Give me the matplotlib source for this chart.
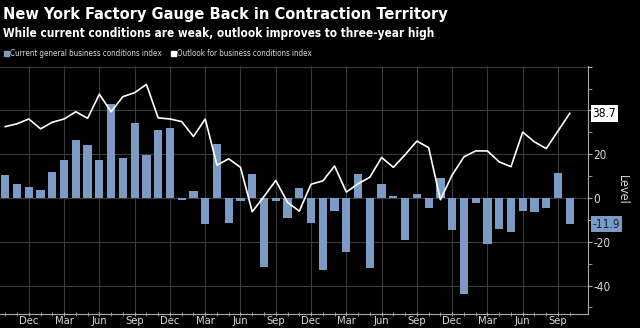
import matplotlib
matplotlib.use("Agg")
import matplotlib.pyplot as plt
import matplotlib.transforms as mtransforms
from matplotlib.patches import Rectangle
import pandas as pd

# monthly data, Oct 2020 .. Oct 2024
months = pd.date_range("2020-10-01", periods=49, freq="MS")

current = [10.5, 6.3, 4.9, 3.5, 12.1, 17.4, 26.3, 24.3, 17.4, 43.0, 18.3, 34.3,
           19.8, 30.9, 31.9, -0.7, 3.1, -11.8, 24.6, -11.6, -1.2, 11.1, -31.3, -1.5,
           -9.1, 4.5, -11.2, -32.9, -5.8, -24.6, 10.8, -31.8, 6.6, 1.1, -19.0, 1.9,
           -4.6, 9.1, -14.5, -43.7, -2.4, -20.9, -14.3, -15.6, -6.0, -6.6, -4.7, 11.5,
           -11.9]

outlook = [32.6, 33.9, 36.1, 31.6, 34.6, 36.1, 39.4, 36.4, 47.4, 39.4, 46.3, 48.1,
           51.9, 36.6, 36.1, 34.9, 28.1, 36.1, 15.0, 17.9, 14.0, -6.3, 0.7, 8.0,
           -2.0, -6.0, 6.3, 7.8, 14.6, 2.7, 6.5, 9.5, 18.5, 14.0, 19.8, 26.0,
           23.0, -0.8, 10.5, 18.8, 21.5, 21.5, 16.5, 14.3, 30.1, 25.6, 22.6, 30.6,
           38.7]

title = "New York Factory Gauge Back in Contraction Territory"
subtitle = "While current conditions are weak, outlook improves to three-year high"
legend_labels = ["Current general business conditions index",
                 "Outlook for business conditions index"]

BAR = "#7b9bc4"
GRID = "#3a3a3a"
TXT = "#d8d8d8"

plt.rcParams["font.family"] = ["DejaVu Sans"]
plt.rcParams["font.stretch"] = "condensed"

fig = plt.figure(figsize=(6.4, 3.28), dpi=100, facecolor="black")
ax = fig.add_axes([0.0, 14 / 328, 588 / 640, 248 / 328], facecolor="black")

x = list(range(len(months)))
ax.bar(x, current, width=0.7, color=BAR, zorder=2)
ax.plot(x, outlook, color="white", lw=1.2, zorder=3)

ax.set_xlim(-0.45, 49.55)
ax.set_ylim(-53, 60.3)

# quarterly labels
qpos = [i for i, m in enumerate(months) if m.month in (3, 6, 9, 12)]
ax.set_xticks(qpos)
ax.set_xticklabels([months[i].strftime("%b") for i in qpos])
ax.set_xticks(x, minor=True)

ax.yaxis.tick_right()
ax.set_yticks([-40, -20, 0, 20, 40, 60])
ax.set_yticklabels(["-40", "-20", "0", "20", "", ""])
ax.set_yticks(range(-50, 61, 10), minor=True)

ax.grid(True, which="major", color=GRID, lw=0.8, zorder=0)
for s in ["left", "top"]:
    ax.spines[s].set_visible(False)
for s in ["right", "bottom"]:
    ax.spines[s].set_color("#aaaaaa")
    ax.spines[s].set_linewidth(0.8)

ax.tick_params(axis="x", which="both", colors="#aaaaaa", labelcolor=TXT,
               labelsize=8, direction="inout", length=3, pad=0)
ax.tick_params(axis="y", which="both", colors="#aaaaaa", labelcolor=TXT,
               labelsize=8.5, direction="out", length=3, pad=1)

ax.yaxis.set_label_position("right")
ax.set_ylabel("Level", color=TXT, fontsize=9, rotation=270, labelpad=13)

# last-value tags on the right axis
tr = mtransforms.blended_transform_factory(ax.transAxes, ax.transData)
ax.text(1.008, outlook[-1], "{:.1f}".format(outlook[-1]), transform=tr,
        fontsize=8.5, color="black", va="center", ha="left", clip_on=False,
        bbox=dict(boxstyle="square,pad=0.15", fc="white", ec="none"))
ax.text(1.008, current[-1], "{:.1f}".format(current[-1]), transform=tr,
        fontsize=8.5, color="#13243f", va="center", ha="left", clip_on=False,
        bbox=dict(boxstyle="square,pad=0.15", fc=BAR, ec="none"))

# headings
fig.text(3 / 640, 1 - 19.5 / 328, title, color="white", fontsize=11.7,
         fontweight="bold", va="baseline", ha="left")
fig.text(3 / 640, 1 - 36.5 / 328, subtitle, color="white", fontsize=8.5,
         fontweight="bold", va="baseline", ha="left")

# legend
ly = 1 - 53.5 / 328
fig.add_artist(Rectangle((4 / 640, ly - 2 / 328), 4.5 / 640, 4.5 / 328,
                         transform=fig.transFigure, color=BAR))
fig.text(10 / 640, ly, legend_labels[0], color=TXT, fontsize=5.8,
         va="center", ha="left")
fig.add_artist(Rectangle((171 / 640, ly - 2 / 328), 4.5 / 640, 4.5 / 328,
                         transform=fig.transFigure, color="white"))
fig.text(177 / 640, ly, legend_labels[1], color=TXT, fontsize=5.8,
         va="center", ha="left")

fig.savefig("out.png", dpi=100, facecolor="black")
